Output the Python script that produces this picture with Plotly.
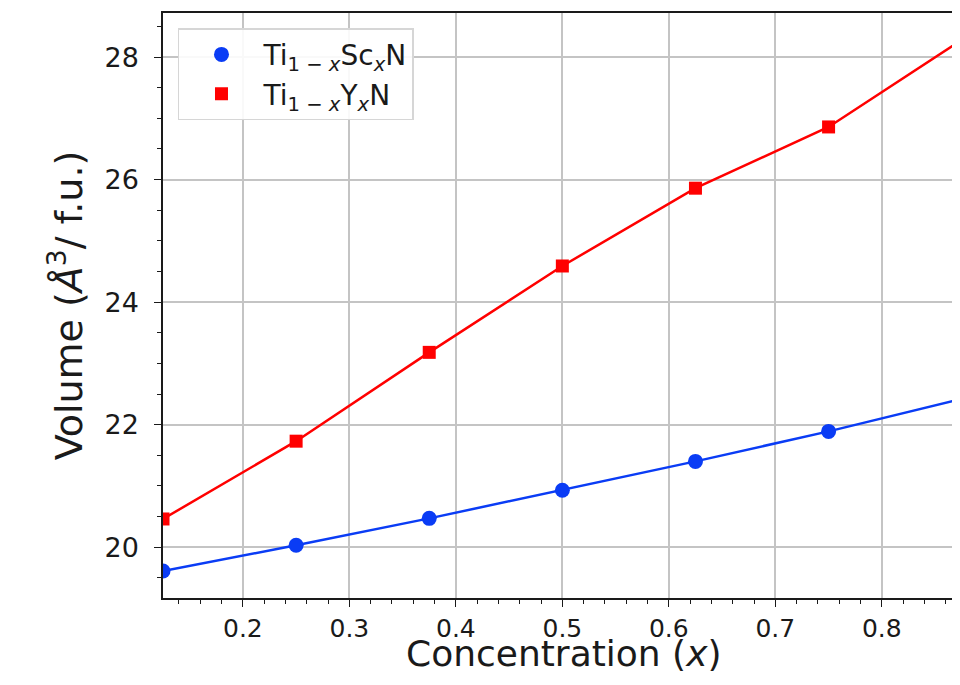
import plotly.graph_objects as go

conc = [0.125, 0.25, 0.375, 0.5, 0.625, 0.75, 0.875]
vol_sc = [19.61, 20.03, 20.47, 20.93, 21.40, 21.89, 22.42]
vol_y = [20.46, 21.73, 23.18, 24.59, 25.86, 26.86, 28.28]
name_sc = "Ti<sub>1 − <i>x</i></sub>Sc<sub><i>x</i></sub>N"
name_y = "Ti<sub>1 − <i>x</i></sub>Y<sub><i>x</i></sub>N"
x_title = "Concentration (<i>x</i>)"
y_title = "Volume (<i>Å</i><sup>3</sup>/ f.u.)"

BLUE = "#0a3cf5"
RED = "#ff0000"

fig = go.Figure()
# lines (no legend entry)
fig.add_trace(go.Scatter(x=conc, y=vol_sc, mode="lines", showlegend=False,
                         line=dict(color=BLUE, width=2.5), hoverinfo="skip"))
fig.add_trace(go.Scatter(x=conc, y=vol_y, mode="lines", showlegend=False,
                         line=dict(color=RED, width=2.5), hoverinfo="skip"))
# markers (legend entries)
fig.add_trace(go.Scatter(x=conc, y=vol_sc, mode="markers", name=name_sc,
                         marker=dict(symbol="circle", size=15, color=BLUE)))
fig.add_trace(go.Scatter(x=conc, y=vol_y, mode="markers", name=name_y,
                         marker=dict(symbol="square", size=13, color=RED)))

axis_common = dict(showline=True, linecolor="#1a1a1a", linewidth=1.5,
                   showgrid=True, gridcolor="#c4c4c4", gridwidth=1.5,
                   ticks="outside", ticklen=7, tickwidth=1.2, tickcolor="#1a1a1a",
                   zeroline=False, automargin=False)

fig.update_layout(
    width=944, height=669,
    margin=dict(l=155, r=0, t=5, b=79, autoexpand=False),
    paper_bgcolor="white", plot_bgcolor="white",
    font=dict(family="DejaVu Sans", color="#1a1a1a"),
    showlegend=True,
    legend=dict(x=0.019, y=0.974, xanchor="left", yanchor="top",
                bgcolor="rgba(255,255,255,0.9)", bordercolor="#d6d6d6", borderwidth=1.5,
                font=dict(family="DejaVu Sans", size=28, color="#1a1a1a"),
                itemwidth=74),
    xaxis=dict(range=[0.125, 0.8659], dtick=0.1, tick0=0.0, tickformat=".1f", mirror=True,
               tickfont=dict(family="DejaVu Sans", size=25, color="#1a1a1a"),
               minor=dict(dtick=0.02, tick0=0.0, ticks="outside", ticklen=4, tickcolor="#1a1a1a", showgrid=False),
               **axis_common),
    yaxis=dict(range=[19.17, 28.72], dtick=2, tick0=0, mirror=False,
               tickfont=dict(family="DejaVu Sans", size=27, color="#1a1a1a"),
               ticklabelstandoff=10,
               title=dict(text=y_title, font=dict(family="DejaVu Sans", size=38), standoff=10),
               minor=dict(dtick=0.5, tick0=0, ticks="outside", ticklen=4, tickcolor="#1a1a1a", showgrid=False),
               **axis_common),
    annotations=[dict(text=x_title, xref="paper", yref="paper", x=0.5078, y=-0.134,
                      xanchor="center", yanchor="bottom", showarrow=False,
                      font=dict(family="DejaVu Sans", size=36, color="#1a1a1a"))],
)

fig.write_html("out.html")
